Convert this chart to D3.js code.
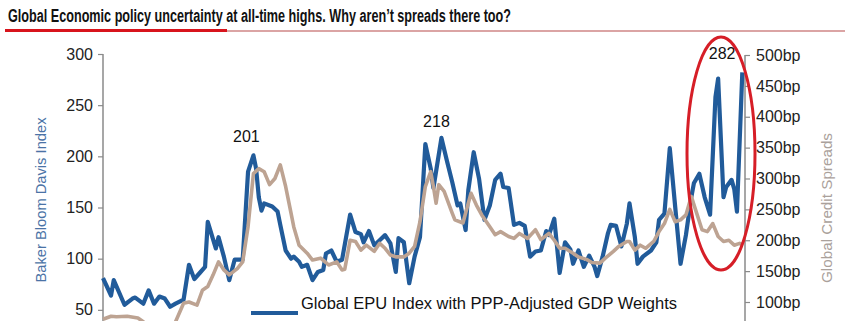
<!DOCTYPE html>
<html>
<head>
<meta charset="utf-8">
<script src="https://cdn.jsdelivr.net/npm/d3@7"></script>
<style>
  html, body { margin: 0; padding: 0; background: #fff; }
  svg { display: block; }
</style>
</head>
<body>
<svg id="chart" width="845" height="321"></svg>
<script>
// ---- Data ----
// Month offsets since Jan 1997 (Jan 1997 = 0, Nov 2016 = 238)
const epuMonth = [0,3,4,8,11,12,15,17,19,21,23,25,27,30,32,34,36,38,39,42,43,45,47,49,52,54,56,57,58,59,60,63,65,66,68,70,71,73,74,76,78,80,82,83,85,87,89,92,94,96,97,99,101,103,105,107,109,110,112,114,116,118,120,122,123,126,128,130,132,133,135,136,138,140,142,144,146,148,149,151,153,155,157,159,161,163,165,166,168,170,172,174,175,177,179,181,183,184,186,188,189,191,193,195,196,198,199,201,204,206,207,209,211,213,215,217,219,220,222,224,226,228,229,231,232,234,235,236,238];
const epuValue = [81,64,79,55,61,62,56,69,56,63,61,53,56,60,94,80,86,92,136,110,121,102,79,99,99,185,201,188,160,147,154,151,146,133,108,100,102,97,92,94,79,87,89,105,108,97,99,143,126,124,116,127,113,118,123,115,87,120,116,76,102,121,212,188,169,218,196,175,152,154,128,167,204,178,138,152,177,183,170,169,133,135,132,102,107,108,127,123,139,86,116,109,95,108,92,103,92,83,102,125,133,132,112,134,154,121,95,102,108,116,138,144,208,151,95,123,160,174,183,160,143,258,276,160,170,177,168,146,282];

const spreadMonth = [0,3,5,9,13,15,17,21,24,27,30,32,35,37,39,41,43,45,47,50,52,54,56,58,60,62,64,66,68,70,71,73,76,78,81,83,84,87,89,90,92,94,96,98,101,103,105,107,109,112,114,116,118,120,122,123,124,125,127,130,131,134,135,137,139,141,144,146,148,151,153,155,158,161,163,166,168,170,172,175,177,180,182,185,187,190,192,195,196,198,200,202,205,207,209,211,213,215,217,219,221,223,225,227,229,231,233,235,237,238];
const spreadValue = [72,77,76,77,74,68,60,57,60,68,98,100,95,119,125,144,165,152,144,154,165,222,308,316,311,290,300,322,287,244,222,192,179,168,171,164,160,165,152,153,200,198,184,192,182,195,187,176,173,173,179,190,230,287,311,287,260,290,279,244,233,228,244,276,257,241,222,209,214,206,203,211,203,217,201,211,200,187,187,179,173,169,164,163,171,182,190,198,198,184,192,187,198,214,227,250,230,233,241,271,244,217,214,227,206,198,200,192,195,193];

const leftTicks = [50, 100, 150, 200, 250, 300];
const rightTicks = [100, 150, 200, 250, 300, 350, 400, 450, 500];

const peakLabels = [
  { text: "201", month: 56, value: 201 },
  { text: "218", month: 126, value: 218 },
  { text: "282", month: 229, value: 282 }
];

const titleText = "Global Economic policy uncertainty at all-time highs. Why aren\u2019t spreads there too?";
const legendText = "Global EPU Index with PPP-Adjusted GDP Weights";
const leftTitle = "Baker Bloom Davis Index";
const rightTitle = "Global Credit Spreads";

// ---- Layout ----
const svg = d3.select("#chart");
const plotLeft = 103, plotRight = 745;
const x = d3.scaleLinear().domain([0, 239]).range([plotLeft, plotRight]);
const yL = d3.scaleLinear().domain([0, 300]).range([361, 54]);
const yR = d3.scaleLinear().domain([0, 500]).range([363.75, 55]);

const blue = "#215b9a";
const tan = "#bda392";
const font = "'Liberation Sans', Arial, sans-serif";

// Title
svg.append("text")
  .attr("x", 8).attr("y", 22)
  .attr("font-family", "'Liberation Sans Narrow', 'Arial Narrow', 'Liberation Sans', Arial, sans-serif")
  .attr("font-weight", "bold")
  .attr("font-size", 18)
  .attr("fill", "#111")
  .attr("textLength", 503)
  .attr("lengthAdjust", "spacingAndGlyphs")
  .text(titleText);

// Title underline
svg.append("line").attr("x1", 227).attr("x2", 845).attr("y1", 31).attr("y2", 31)
  .attr("stroke", "#b84a4a").attr("stroke-width", 1.2);
svg.append("line").attr("x1", 5).attr("x2", 227).attr("y1", 30.5).attr("y2", 30.5)
  .attr("stroke", "#d8141c").attr("stroke-width", 3);

// Axes
const leftAxis = d3.axisLeft(yL).tickValues(leftTicks).tickSize(5).tickPadding(5);
const gL = svg.append("g").attr("transform", `translate(${plotLeft},0)`).call(leftAxis);
gL.select(".domain").remove();
gL.append("line").attr("x1", 0).attr("x2", 0).attr("y1", 54).attr("y2", 361)
  .attr("stroke", "#8a8a8a").attr("stroke-width", 1.5);
gL.selectAll(".tick line").attr("stroke", "#8a8a8a").attr("stroke-width", 1.2);
gL.selectAll(".tick text").attr("font-family", font).attr("font-size", 16).attr("fill", "#222");

const rightAxis = d3.axisRight(yR).tickValues(rightTicks).tickSize(5).tickPadding(6)
  .tickFormat(d => d + "bp");
const gR = svg.append("g").attr("transform", `translate(${plotRight},0)`).call(rightAxis);
gR.select(".domain").remove();
gR.append("line").attr("x1", 0).attr("x2", 0).attr("y1", 55).attr("y2", 364)
  .attr("stroke", "#8a8a8a").attr("stroke-width", 1.5);
gR.selectAll(".tick line").attr("stroke", "#8a8a8a").attr("stroke-width", 1.2);
gR.selectAll(".tick text").attr("font-family", font).attr("font-size", 16).attr("fill", "#222");

// Axis titles
svg.append("text")
  .attr("transform", "translate(46,200) rotate(-90)")
  .attr("text-anchor", "middle")
  .attr("font-family", font).attr("font-size", 15)
  .attr("fill", "#4b73a6")
  .attr("textLength", 165).attr("lengthAdjust", "spacingAndGlyphs")
  .text(leftTitle);
svg.append("text")
  .attr("transform", "translate(832,208) rotate(-90)")
  .attr("text-anchor", "middle")
  .attr("font-family", font).attr("font-size", 15)
  .attr("fill", "#aaa19b")
  .attr("textLength", 150).attr("lengthAdjust", "spacingAndGlyphs")
  .text(rightTitle);

// Lines
const epuData = epuMonth.map((m, i) => ({ m, v: epuValue[i] }));
const spreadData = spreadMonth.map((m, i) => ({ m, v: spreadValue[i] }));

svg.append("path")
  .datum(epuData)
  .attr("fill", "none")
  .attr("stroke", blue)
  .attr("stroke-width", 4.2)
  .attr("stroke-linejoin", "round")
  .attr("d", d3.line().x(d => x(d.m)).y(d => yL(d.v)));

svg.append("path")
  .datum(spreadData)
  .attr("fill", "none")
  .attr("stroke", tan)
  .attr("stroke-width", 3.6)
  .attr("stroke-linejoin", "round")
  .attr("d", d3.line().x(d => x(d.m)).y(d => yR(d.v)));

// Peak labels
const labelOffsets = { "201": [-7, -13], "218": [-5, -11], "282": [4, -13] };
svg.selectAll("text.peak")
  .data(peakLabels)
  .enter().append("text")
  .attr("class", "peak")
  .attr("x", d => x(d.month) + labelOffsets[d.text][0])
  .attr("y", d => yL(d.value) + labelOffsets[d.text][1])
  .attr("text-anchor", "middle")
  .attr("font-family", font).attr("font-size", 16)
  .attr("fill", "#111")
  .text(d => d.text);

// Red ellipse highlight
svg.append("ellipse")
  .attr("cx", 721).attr("cy", 153.5).attr("rx", 34).attr("ry", 116.5)
  .attr("fill", "none").attr("stroke", "#d61e27").attr("stroke-width", 3);

// Legend
svg.append("line").attr("x1", 251).attr("x2", 298).attr("y1", 313).attr("y2", 313)
  .attr("stroke", blue).attr("stroke-width", 4);
svg.append("text")
  .attr("x", 301).attr("y", 309)
  .attr("font-family", font).attr("font-size", 16)
  .attr("fill", "#111")
  .attr("textLength", 376).attr("lengthAdjust", "spacingAndGlyphs")
  .text(legendText);
</script>
</body>
</html>
